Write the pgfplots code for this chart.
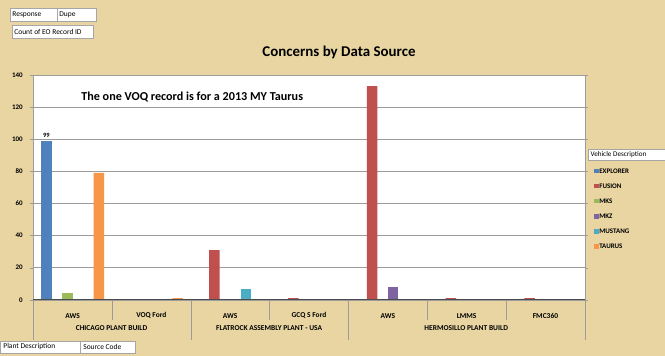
\documentclass[border=0pt]{standalone}
\usepackage{pgfplots}
\pgfplotsset{compat=1.18}
\usetikzlibrary{backgrounds}
\usepackage{fontspec}
\setmainfont{Carlito}
\definecolor{bg}{HTML}{E8D5A2}
\definecolor{expl}{HTML}{4F81BD}
\definecolor{fus}{HTML}{C0504D}
\definecolor{mks}{HTML}{9BBB59}
\definecolor{mkz}{HTML}{8064A2}
\definecolor{must}{HTML}{4BACC6}
\definecolor{taur}{HTML}{F79646}
\definecolor{gridc}{HTML}{9C9C9C}
\begin{document}
\begin{tikzpicture}
\begin{axis}[
  scale only axis,
  width=552bp, height=225bp,
  ybar=0pt, bar width=10.5bp,
  xmin=-0.5, xmax=6.5, ymin=0, ymax=140,
  ytick={0,20,...,140},
  xtick={0,...,6},
  xticklabels={AWS,VOQ Ford,AWS,GCQ S Ford,AWS,LMMS,FMC360},
  xtick style={draw=none},
  xticklabel style={anchor=center, yshift=-13bp, font=\bfseries\fontsize{7.5}{8}\selectfont},
  yticklabel style={font=\bfseries\fontsize{7}{8}\selectfont, xshift=-4bp},
  /pgf/number format/assume math mode=true,
  tick align=outside, major tick length=3bp,
  ytick style={gridc},
  ymajorgrids, grid style={gridc, line width=0.8bp},
  axis background/.style={fill=white},
  axis line style={gridc},
  clip=false,
  legend style={at={(1.011,0.597)}, anchor=north west, draw=none, fill=none,
    font=\bfseries\fontsize{7}{8}\selectfont, row sep=8.4bp,
    nodes={inner sep=0.8bp, text height=4.8bp, text depth=0.3bp}},
  legend cell align=left,
  legend image code/.code={\fill[#1] (0bp,-2.2bp) rectangle (4.4bp,2.2bp);},
]
\addplot[fill=expl, draw=none, nodes near coords,
  every node near coord/.append style={font=\bfseries\fontsize{6.5}{7}\selectfont, black}]
  coordinates {(0,99)};
\addplot[fill=fus, draw=none] coordinates {(2,31) (3,1) (4,133) (5,1) (6,1)};
\addplot[fill=mks, draw=none] coordinates {(0,4)};
\addplot[fill=mkz, draw=none] coordinates {(4,8)};
\addplot[fill=must, draw=none] coordinates {(2,7)};
\addplot[fill=taur, draw=none] coordinates {(0,79) (1,1)};
\legend{EXPLORER,FUSION,MKS,MKZ,MUSTANG,TAURUS}
\coordinate (O) at (axis cs:-0.5,0);
% bottom axis line and category separators
\draw[gray!60!black, line width=0.8bp] (axis cs:-0.5,0) -- (axis cs:6.5,0);
\pgfplotsinvokeforeach{-0.5,1.5,3.5,6.5}{\draw[gridc] (axis cs:#1,0) -- ([yshift=-40bp]axis cs:#1,0);}
\pgfplotsinvokeforeach{0.5,2.5,4.5,5.5}{\draw[gridc] (axis cs:#1,0) -- ([yshift=-20bp]axis cs:#1,0);}
\end{axis}
\begin{scope}[x=1bp, y=1bp, shift={(O)}, shift={(-33,-56)}]
\begin{scope}[on background layer]
\fill[bg] (0,0) rectangle (665,356);
\end{scope}
% group labels
\node[font=\bfseries\fontsize{7.5}{8}\selectfont] at (111.4,27.5) {CHICAGO PLANT BUILD};
\node[font=\bfseries\fontsize{7.5}{8}\selectfont] at (269.1,27.5) {FLATROCK ASSEMBLY PLANT - USA};
\node[font=\bfseries\fontsize{7.5}{8}\selectfont] at (466.3,27.5) {HERMOSILLO PLANT BUILD};
% annotation
\node[anchor=west, inner sep=0pt, font=\bfseries\fontsize{12.2}{14}\selectfont] at (81,259) {The one VOQ record is for a 2013 MY Taurus};
% pivot field buttons
\draw[gray!70,fill=white] (10,335) rectangle (57,348);
\draw[gray!70,fill=white] (57,335) rectangle (96,348);
\node[anchor=west,inner sep=1bp,font=\fontsize{7.5}{8}\selectfont] at (11,341.5) {Response};
\node[anchor=west,inner sep=1bp,font=\fontsize{7.5}{8}\selectfont] at (58,341.5) {Dupe};
\draw[gray!70,fill=white] (12,318) rectangle (93,331);
\node[anchor=west,inner sep=1bp,font=\fontsize{7.5}{8}\selectfont] at (13,324.5) {Count of EO Record ID};
\draw[gray!70,fill=white] (0,3) rectangle (80,15);
\draw[gray!70,fill=white] (80,3) rectangle (135,15);
\node[anchor=west,inner sep=1bp,font=\fontsize{7.5}{8}\selectfont] at (2,9) {Plant Description};
\node[anchor=west,inner sep=1bp,font=\fontsize{7.5}{8}\selectfont] at (82,9) {Source Code};
\draw[gray!70,fill=white] (588,196) rectangle (665,207);
\node[anchor=west,inner sep=1bp,font=\fontsize{7.2}{8}\selectfont] at (589.5,201.5) {Vehicle Description};
% title
\node[font=\bfseries\fontsize{15}{17}\selectfont] at (339,304) {Concerns by Data Source};
\path[use as bounding box] (0,0) rectangle (665,356);
\end{scope}
\end{tikzpicture}
\end{document}
